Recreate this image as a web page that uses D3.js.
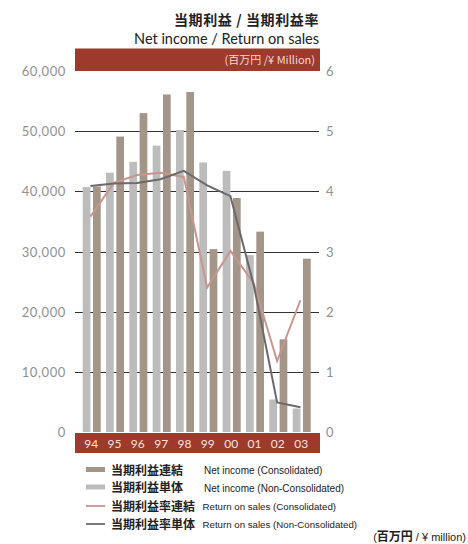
<!DOCTYPE html>
<html><head><meta charset="utf-8">
<script src="https://cdn.jsdelivr.net/npm/d3@7/dist/d3.min.js"></script>
<style>
body{margin:0;background:#fff;}
text{font-family:"Open Sans","Noto Sans CJK JP",sans-serif;}
</style></head>
<body><svg id="c" width="468" height="544"></svg>
<script>
const years = ["94","95","96","97","98","99","00","01","02","03"];
const netConsol = [40800,49100,53000,56100,56500,30400,38900,33300,15400,28800];
const netSingle = [40700,43100,44900,47600,50200,44800,43400,29400,5400,3900];
const rosConsol = [3.58,4.14,4.27,4.31,4.24,2.40,3.01,2.47,1.18,2.19];
const rosSingle = [4.09,4.13,4.14,4.20,4.34,4.10,3.92,2.44,0.49,0.41];
const leftTicks = [0,10000,20000,30000,40000,50000,60000];
const rightTicks = [0,1,2,3,4,5,6];

const RED="#9d3a2c", BROWN="#a49589", GREY="#bcbcbc", PINK="#c7968e", DARK="#6a6a6a";
const svg = d3.select("#c");
const x = d3.scaleBand().domain(years).range([79.5,312.8]);
const xs = d3.scaleBand().domain(["single","consol"]).range([3.2,21.2]).paddingInner(0.25);
const yL = d3.scaleLinear().domain([0,60000]).range([432,71]);
const yR = d3.scaleLinear().domain([0,6]).range([432,71]);

// title
svg.append("text").attr("x",319).attr("y",25).attr("text-anchor","end")
  .attr("font-size",14).attr("font-weight","bold").attr("fill","#222").attr("letter-spacing",0.6)
  .style("font-family","'Noto Sans CJK JP',sans-serif").text("当期利益 / 当期利益率");
svg.append("text").attr("x",319).attr("y",44).attr("text-anchor","end")
  .attr("font-size",14.5).attr("fill","#222").style("font-family","Lato,sans-serif")
  .text("Net income / Return on sales");
// header bar
svg.append("rect").attr("x",75).attr("y",48.5).attr("width",245).attr("height",22.5).attr("fill",RED);
svg.append("text").attr("x",315).attr("y",64).attr("text-anchor","end").attr("font-size",11)
  .attr("fill","#efd9d4").style("font-family","'Noto Sans CJK JP',sans-serif").text("(百万円 /¥ Million)");

// gridlines
svg.append("g").selectAll("line").data(leftTicks.filter(t=>t>0&&t<60000)).join("line")
  .attr("x1",75).attr("x2",319).attr("y1",d=>Math.round(yL(d))+0.5).attr("y2",d=>Math.round(yL(d))+0.5)
  .attr("stroke","#333").attr("stroke-width",1.2);

// axis labels
svg.append("g").selectAll("text").data(leftTicks).join("text")
  .attr("x",66).attr("y",d=>yL(d)+5).attr("text-anchor","end").attr("font-size",13)
  .attr("letter-spacing",0.6).attr("fill","#919191").style("font-family","Lato,sans-serif")
  .text(d=>d3.format(",")(d));
svg.append("g").selectAll("text").data(rightTicks).join("text")
  .attr("x",326).attr("y",d=>yR(d)+5).attr("font-size",13)
  .attr("fill","#919191").style("font-family","Lato,sans-serif").text(d=>d);

// bars
const g = svg.append("g");
g.selectAll("rect.s").data(years).join("rect").attr("class","s")
  .attr("x",(d)=>x(d)+xs("single")).attr("width",xs.bandwidth())
  .attr("y",(d,i)=>yL(netSingle[i])).attr("height",(d,i)=>yL(0)-yL(netSingle[i])).attr("fill",GREY);
g.selectAll("rect.c").data(years).join("rect").attr("class","c")
  .attr("x",(d)=>x(d)+xs("consol")).attr("width",xs.bandwidth())
  .attr("y",(d,i)=>yL(netConsol[i])).attr("height",(d,i)=>yL(0)-yL(netConsol[i])).attr("fill",BROWN);

// lines
const px = d => x(d)+x.step()*0.47;
const line = arr => d3.line().x((d,i)=>px(years[i])).y(d=>yR(d))(arr);
svg.append("path").attr("d",line(rosConsol)).attr("fill","none").attr("stroke",PINK).attr("stroke-width",2);
svg.append("path").attr("d",line(rosSingle)).attr("fill","none").attr("stroke",DARK).attr("stroke-width",2);

// bottom bar
svg.append("rect").attr("x",75).attr("y",433).attr("width",245).attr("height",20).attr("fill",RED);
svg.append("g").selectAll("text").data(years).join("text")
  .attr("x",d=>x(d)+x.step()/2).attr("y",448).attr("text-anchor","middle").attr("font-size",12)
  .attr("fill","#f3e3df").style("font-family","Lato,sans-serif").text(d=>d);

// legend
const legend = [
  {zh:"当期利益連結", en:"Net income (Consolidated)", type:"bar", color:BROWN},
  {zh:"当期利益単体", en:"Net income (Non-Consolidated)", type:"bar", color:GREY},
  {zh:"当期利益率連結", en:"Return on sales (Consolidated)", type:"line", color:PINK},
  {zh:"当期利益率単体", en:"Return on sales (Non-Consolidated)", type:"line", color:DARK}
];
const rowY = [470,487.5,506,524];
legend.forEach((l,i)=>{
  const y0 = rowY[i];
  if(l.type==="bar") svg.append("rect").attr("x",86).attr("y",y0-3).attr("width",19).attr("height",5).attr("fill",l.color);
  else svg.append("line").attr("x1",86).attr("x2",105).attr("y1",y0).attr("y2",y0).attr("stroke",l.color).attr("stroke-width",1.8);
  svg.append("text").attr("x",111).attr("y",y0+4.5).attr("font-size",12).attr("font-weight","bold")
    .attr("fill","#222").style("font-family","'Noto Sans CJK JP',sans-serif").text(l.zh);
  svg.append("text").attr("x",i<2?204:202.5).attr("y",y0+4).attr("font-size",i<2?10:9.7)
    .attr("fill","#222").style("font-family","'Liberation Sans',Arial,sans-serif").text(l.en);
});
const u = svg.append("text").attr("x",466).attr("y",541).attr("text-anchor","end").attr("font-size",11)
  .attr("fill","#222").style("font-family","'Liberation Sans',sans-serif");
u.append("tspan").text("(");
u.append("tspan").attr("font-weight","bold").attr("font-size",12).style("font-family","'Noto Sans CJK JP',sans-serif").text("百万円");
u.append("tspan").text(" / ¥ million)");
</script></body></html>
